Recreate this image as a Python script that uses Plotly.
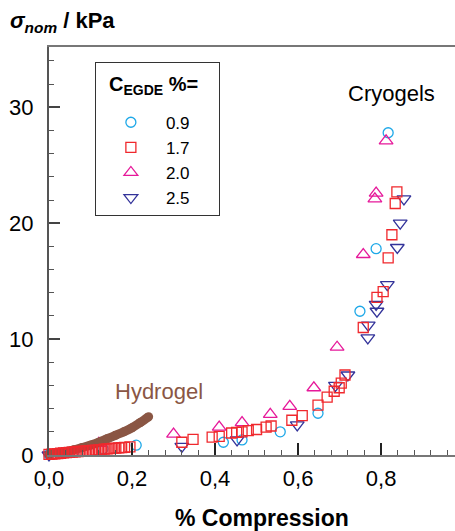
import plotly.graph_objects as go

# ---- data ----
c09_x = [0.0, 0.06, 0.13, 0.21, 0.42, 0.465, 0.557, 0.648, 0.749, 0.788, 0.817]
c09_y = [0.05, 0.3, 0.55, 0.85, 1.1, 1.3, 2.0, 3.6, 12.4, 17.8, 27.8]

c17_x = [0.32, 0.347, 0.393, 0.41, 0.44, 0.452, 0.465, 0.48, 0.50, 0.523, 0.535, 0.585, 0.61,
         0.648, 0.67, 0.687, 0.699, 0.704, 0.713, 0.757, 0.79, 0.805, 0.817, 0.826, 0.834, 0.838]
c17_y = [1.1, 1.35, 1.55, 1.6, 1.9, 1.95, 2.0, 2.1, 2.2, 2.4, 2.5, 3.0, 3.4,
         4.3, 5.0, 5.5, 5.8, 6.2, 6.9, 11.0, 13.6, 14.1, 17.0, 19.0, 21.7, 22.7]

hyd_sq_x = [0.000, 0.007, 0.014, 0.021, 0.028, 0.035, 0.042, 0.049, 0.056, 0.063, 0.070, 0.077,
            0.084, 0.091, 0.098, 0.105, 0.112, 0.119, 0.126, 0.133, 0.140, 0.147, 0.154, 0.161,
            0.168, 0.175, 0.182, 0.195]
hyd_sq_y = [0.05, 0.08, 0.1, 0.12, 0.15, 0.18, 0.2, 0.22, 0.25, 0.27, 0.3, 0.32,
            0.34, 0.36, 0.38, 0.4, 0.42, 0.45, 0.47, 0.5, 0.52, 0.55, 0.57, 0.6,
            0.62, 0.64, 0.66, 0.7]

c20_x = [0.12, 0.30, 0.41, 0.465, 0.533, 0.58, 0.638, 0.694, 0.757, 0.785, 0.788, 0.812]
c20_y = [1.0, 1.8, 2.4, 2.8, 3.5, 4.2, 5.8, 9.3, 17.3, 22.1, 22.6, 27.1]

c25_x = [0.0, 0.32, 0.453, 0.598, 0.69, 0.72, 0.768, 0.769, 0.788, 0.79, 0.815, 0.839, 0.846, 0.855]
c25_y = [0.0, 0.75, 1.3, 2.6, 6.0, 6.9, 10.1, 11.2, 13.0, 12.4, 14.7, 17.9, 20.0, 22.1]

hydrogel_x = [0.00, 0.02, 0.04, 0.06, 0.08, 0.10, 0.12, 0.14, 0.16, 0.18, 0.20, 0.22, 0.24]
hydrogel_y = [0.05, 0.15, 0.28, 0.45, 0.65, 0.85, 1.1, 1.4, 1.7, 2.0, 2.35, 2.8, 3.3]

legend_title = "<b>C<sub>EGDE</sub> %=</b>"

FONT = "Liberation Sans, Arial, sans-serif"
CYAN, RED, MAG, NAVY, BROWN = "#1EA8E8", "#F0282D", "#E6199A", "#33339A", "#8A5644"
PAD = "\u00a0\u00a0\u00a0\u00a0\u00a0"

fig = go.Figure()

def mk(symbol, color, size):
    return dict(symbol=symbol, color=color, size=size, line=dict(color=color, width=1.3))

fig.add_trace(go.Scatter(x=c09_x, y=c09_y, mode="markers", name="0.9" + PAD, legendrank=1,
                         marker=mk("circle-open", CYAN, 10), cliponaxis=False))
fig.add_trace(go.Scatter(x=c25_x, y=c25_y, mode="markers", name="2.5" + PAD, legendrank=4,
                         marker=mk("triangle-down-open", NAVY, 12), cliponaxis=False))
fig.add_trace(go.Scatter(x=c20_x, y=c20_y, mode="markers", name="2.0" + PAD, legendrank=3,
                         marker=mk("triangle-up-open", MAG, 12), cliponaxis=False))
fig.add_trace(go.Scatter(x=hydrogel_x, y=hydrogel_y, mode="lines+markers", showlegend=False,
                         line=dict(color=BROWN, width=9, shape="spline"),
                         marker=dict(symbol="circle", color=BROWN, size=9), cliponaxis=False))
fig.add_trace(go.Scatter(x=hyd_sq_x, y=hyd_sq_y, mode="markers", showlegend=False,
                         marker=mk("square-open", RED, 10), cliponaxis=False))
fig.add_trace(go.Scatter(x=c17_x, y=c17_y, mode="markers", name="1.7" + PAD, legendrank=2,
                         marker=mk("square-open", RED, 10), cliponaxis=False))

fig.update_layout(
    width=455, height=531,
    margin=dict(l=49, r=0, t=47, b=76),
    paper_bgcolor="white", plot_bgcolor="white",
    separators=",.",
    font=dict(family=FONT, size=22, color="black"),
    showlegend=True,
    legend=dict(
        x=0.113, y=0.963, xanchor="left", yanchor="top",
        bordercolor="#333", borderwidth=1, bgcolor="rgba(0,0,0,0)",
        font=dict(size=17, family=FONT),
        title=dict(text="<span style='font-size:19px'><b>\u00a0</b></span><br> ",
                   font=dict(size=16, family=FONT)),
        itemwidth=60,
        tracegroupgap=0,
    ),
    xaxis=dict(
        range=[0, 0.978], showgrid=False, zeroline=False,
        showline=True, linecolor="#777", linewidth=2, mirror=True,
        ticks="inside", ticklen=12, tickwidth=1.5, tickcolor="#222",
        tick0=0, dtick=0.2, tickformat=".1f",
        tickfont=dict(size=22, family=FONT), ticklabelstandoff=3,
        minor=dict(ticks="inside", ticklen=5, tickwidth=1.2, tickcolor="#555", dtick=0.04),
    ),
    yaxis=dict(
        range=[0, 35.2], showgrid=False, zeroline=False,
        showline=True, linecolor="#555", linewidth=2,
        ticks="inside", ticklen=11, tickwidth=1.5, tickcolor="#444",
        tick0=0, dtick=10,
        tickfont=dict(size=22, family=FONT), ticklabelstandoff=9,
        minor=dict(ticks="inside", ticklen=5, tickwidth=1.2, tickcolor="#555", dtick=2),
    ),
)

fig.add_annotation(text=legend_title, xref="paper", yref="paper",
                   x=(107 - 49) / 406, y=1 - (85 - 47) / 408, xanchor="left", yanchor="middle",
                   showarrow=False, font=dict(size=20, family=FONT, color="black"))
fig.add_annotation(text="<b><i>σ</i><sub><i>nom</i></sub> / kPa</b>", xref="paper", yref="paper",
                   x=(8 - 49) / 406, y=1 + (47 - 22) / 408, xanchor="left", yanchor="middle",
                   showarrow=False, font=dict(size=22, family=FONT, color="black"))
fig.add_annotation(text="<b>% Compression</b>", xref="paper", yref="paper",
                   x=(262 - 49) / 406, y=-(518 - 455) / 408, xanchor="center", yanchor="middle",
                   showarrow=False, font=dict(size=23, family=FONT, color="black"))
fig.add_annotation(text="Cryogels", xref="paper", yref="paper",
                   x=(391 - 49) / 406, y=1 - (93 - 47) / 408, xanchor="center", yanchor="middle",
                   showarrow=False, font=dict(size=22, family=FONT, color="black"))
fig.add_annotation(text="Hydrogel", xref="paper", yref="paper",
                   x=(159 - 49) / 406, y=1 - (391 - 47) / 408, xanchor="center", yanchor="middle",
                   showarrow=False, font=dict(size=22, family=FONT, color=BROWN))

fig.write_html("out.html")
